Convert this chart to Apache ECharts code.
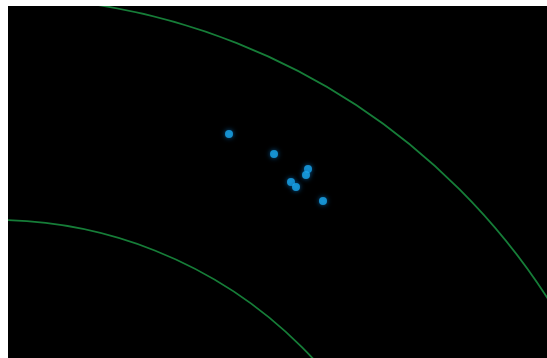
<!DOCTYPE html>
<html>
<head>
<meta charset="utf-8">
<script src="https://cdn.jsdelivr.net/npm/echarts@6/dist/echarts.min.js"></script>
<style>
  html, body { margin: 0; padding: 0; background: #fff; }
  #chart { width: 547px; height: 358px; }
</style>
</head>
<body>
<div id="chart"></div>
<script>
// image coordinates (x right, y down)
const spotX = [229, 274, 308, 306, 291, 296, 323]
const spotY = [134, 154, 169, 175, 182, 187, 201]

// rings: common centre and radii
const ringCenter = [-5, 654]
const ringRadii = [434, 657]

const chart = echarts.init(document.getElementById('chart'))

const spots = spotX.map((x, i) => [x, spotY[i]])
const rings = ringRadii.map(r => [ringCenter[0], ringCenter[1], r])

const option = {
  animation: false,
  backgroundColor: '#fff',
  grid: {
    left: 8,
    top: 6,
    right: 0,
    bottom: 0,
    show: true,
    backgroundColor: '#000',
    borderWidth: 0
  },
  xAxis: {
    type: 'value',
    min: 8,
    max: 547,
    show: false
  },
  yAxis: {
    type: 'value',
    min: 6,
    max: 358,
    inverse: true,
    show: false
  },
  series: [
    {
      type: 'custom',
      clip: true,
      data: rings,
      renderItem: function (params, api) {
        const c = api.coord([api.value(0), api.value(1)])
        const s = api.size([api.value(2), api.value(2)])
        return {
          type: 'circle',
          shape: { cx: c[0], cy: c[1], r: s[0] },
          style: { fill: 'none', stroke: '#167d38', lineWidth: 1.8 }
        }
      }
    },
    {
      type: 'scatter',
      data: spots,
      symbolSize: 8,
      itemStyle: {
        color: '#1aa8ee',
        shadowBlur: 5,
        shadowColor: '#0a6cb4'
      }
    }
  ]
}

chart.setOption(option)
</script>
</body>
</html>
